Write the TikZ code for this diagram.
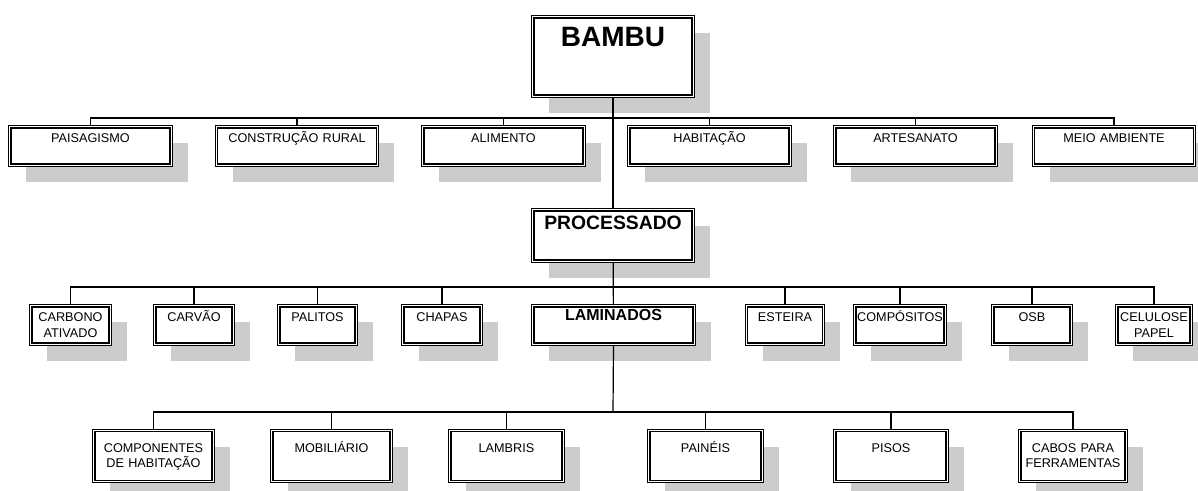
\documentclass[tikz,border=0pt]{standalone}
\usepackage{fontspec}
\setmainfont{Liberation Sans}
\usetikzlibrary{shadows}

\tikzset{
	caixa/.style={draw, double, double distance=0.9pt, line width=0.9pt, fill=white, inner sep=0pt,
		drop shadow={shadow xshift=12.3pt, shadow yshift=-12.3pt, fill=black!20, opacity=1}},
	largo/.style={caixa, minimum width=121pt, minimum height=28.8pt},
	estreito/.style={caixa, minimum width=#1, minimum height=28.8pt},
	baixo/.style={caixa, minimum width=#1, minimum height=38.5pt},
	rotulo/.style={anchor=north, inner sep=0pt, text width=4cm, align=center, text height=12.3pt,
		font=\fontsize{9.5}{11.6}\selectfont},
	liga/.style={line width=0.9pt},
}

\begin{document}
\begin{tikzpicture}[x=0.75pt, y=-0.75pt]
		%%%%% START %%%%%
		\useasboundingbox (0,0) rectangle (1198,490);
		
		\node[caixa, minimum width=120.3pt, minimum height=59.5pt,
			label={[rotulo, text height=22.8pt, font=\fontsize{21}{25}\selectfont\bfseries]north:BAMBU}] (bambu) at (613,56.5) {};
		
		\node[largo, label={[rotulo]north:PAISAGISMO}] (paisagismo) at (90.5,146) {};
		\node[largo, label={[rotulo]north:CONSTRUÇÃO RURAL}] (construcao) at (297,146) {};
		\node[largo, label={[rotulo]north:ALIMENTO}] (alimento) at (503.5,146) {};
		\node[largo, label={[rotulo]north:HABITAÇÃO}] (habitacao) at (709.5,146) {};
		\node[largo, label={[rotulo]north:ARTESANATO}] (artesanato) at (915.5,146) {};
		\node[largo, label={[rotulo]north:MEIO AMBIENTE}] (meio) at (1114,146) {};
		
		\node[caixa, minimum width=120.3pt, minimum height=38.5pt,
			label={[rotulo, text height=15.2pt, font=\fontsize{14.5}{17}\selectfont\bfseries]north:PROCESSADO}] (processado) at (613,235.5) {};
		
		\node[estreito=59.5pt, label={[rotulo]north:CARBONO\\ATIVADO}] (carbono) at (70.5,325) {};
		\node[estreito=58.8pt, label={[rotulo]north:CARVÃO}] (carvao) at (194,325) {};
		\node[estreito=58pt, label={[rotulo]north:PALITOS}] (palitos) at (317.5,325) {};
		\node[estreito=58.8pt, label={[rotulo]north:CHAPAS}] (chapas) at (442,325) {};
		\node[largo, label={[rotulo, text height=11.5pt, font=\fontsize{12}{14}\selectfont\bfseries]north:LAMINADOS}] (laminados) at (613.5,325) {};
		\node[estreito=58pt, label={[rotulo]north:ESTEIRA}] (esteira) at (785,325) {};
		\node[estreito=67.8pt, label={[rotulo]north:COMPÓSITOS}] (compositos) at (900,325) {};
		\node[estreito=58.8pt, label={[rotulo]north:OSB}] (osb) at (1032,325) {};
		\node[estreito=55.8pt, label={[rotulo]north:CELULOSE\\PAPEL}] (celulose) at (1154,325) {};
		
		\node[baixo=89.5pt, label={[rotulo, text height=16.7pt]north:COMPONENTES\\DE HABITAÇÃO}] (componentes) at (153.5,456) {};
		\node[baixo=89.5pt, label={[rotulo, text height=16.7pt]north:MOBILIÁRIO}] (mobiliario) at (331.5,456) {};
		\node[baixo=85pt, label={[rotulo, text height=16.7pt]north:LAMBRIS}] (lambris) at (506.5,456) {};
		\node[baixo=85pt, label={[rotulo, text height=16.7pt]north:PAINÉIS}] (paineis) at (705.5,456) {};
		\node[baixo=84.3pt, label={[rotulo, text height=16.7pt]north:PISOS}] (pisos) at (891,456) {};
		\node[baixo=79.8pt, label={[rotulo, text height=16.7pt]north:CABOS PARA\\FERRAMENTAS}] (cabos) at (1073,456) {};
		
		% barramentos
		\coordinate (bus1) at (613,118);
		\coordinate (bus2) at (613,287);
		\coordinate (bus3) at (613,412);
		
		\draw[liga] (bambu) -- (processado);
		\draw[liga] (paisagismo.north) |- (bus1) -| (meio.north);
		\foreach \n in {construcao,alimento,habitacao,artesanato}
			\draw[liga] (\n.north) -- (\n.north |- bus1);
		
		\draw[liga] (processado) -- (laminados);
		\draw[liga] (carbono.north) |- (bus2) -| (celulose.north);
		\foreach \n in {carvao,palitos,chapas,esteira,compositos,osb}
			\draw[liga] (\n.north) -- (\n.north |- bus2);
		
		\draw[liga] (laminados.south) -- (bus3);
		\draw[liga] (componentes.north) |- (bus3) -| (cabos.north);
		\foreach \n in {mobiliario,lambris,paineis,pisos}
			\draw[liga] (\n.north) -- (\n.north |- bus3);
		
		%%%%% END %%%%%
	\end{tikzpicture}
\end{document}
